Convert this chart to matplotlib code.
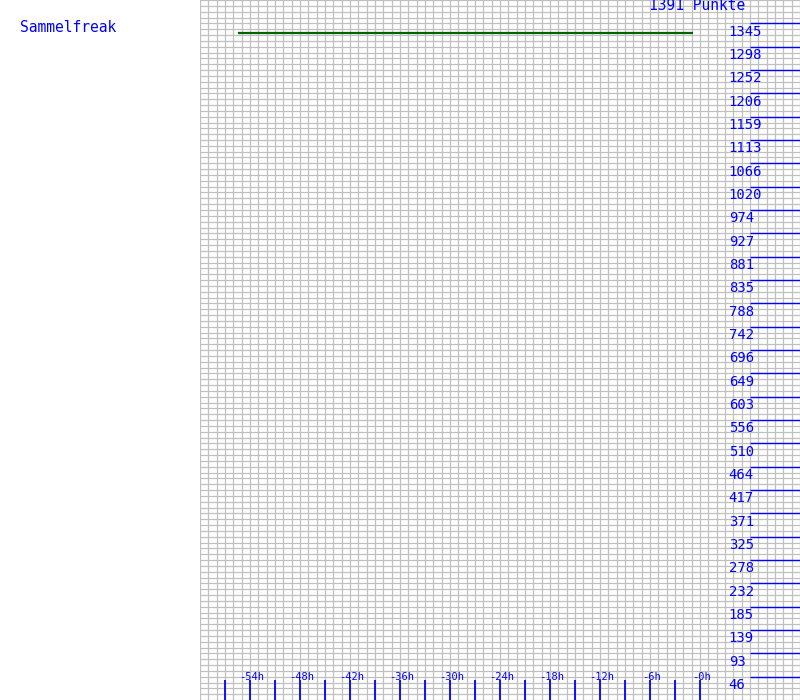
"""Points history chart for one player (last 60 hours)."""

import matplotlib

matplotlib.use("Agg")
import matplotlib.pyplot as plt
from matplotlib.ticker import MultipleLocator

PLAYER = "Sammelfreak"
MAX_POINTS = 1391
# green points line: start/end hour and value
LINE_HOURS = [-55.4, -0.9]
LINE_POINTS = [1326, 1326]
X_LABEL_HOURS = [-54, -48, -42, -36, -30, -24, -18, -12, -6, 0]
X_TICK_HOURS = [-57, -54, -51, -48, -45, -42, -39, -36, -33, -30,
                -27, -24, -21, -18, -15, -12, -9, -6, -3, 0]
Y_STEP = MAX_POINTS / 30
Y_LABELS = [1345, 1298, 1252, 1206, 1159, 1113, 1066, 1020, 974, 927,
            881, 835, 788, 742, 696, 649, 603, 556, 510, 464,
            417, 371, 325, 278, 232, 185, 139, 93, 46]

BLUE = "#0000FF"
GREEN = "#006400"
GRID = "#C0C0C0"
FONT = "DejaVu Sans Mono"

fig = plt.figure(figsize=(8, 7), dpi=100)
ax = fig.add_axes([0.25, 0, 0.75, 1])
ax.set_xlim(-60, 12)
ax.set_ylim(0, MAX_POINTS)

# light grid: 1h columns, 120 rows
ax.xaxis.set_minor_locator(MultipleLocator(1))
ax.yaxis.set_minor_locator(MultipleLocator(MAX_POINTS / 120))
ax.grid(which="minor", color=GRID, linewidth=0.9)
ax.set_xticks([])
ax.set_yticks([])
ax.tick_params(which="both", length=0)
for s in ax.spines.values():
    s.set_visible(False)

# value line
ax.plot(LINE_HOURS, LINE_POINTS, color=GREEN, linewidth=1.6, solid_capstyle="butt")

# right-hand scale
px = MAX_POINTS / 700  # data units per pixel
for i, lab in enumerate(Y_LABELS):
    yv = MAX_POINTS - (i + 1) * Y_STEP
    ax.hlines(yv, 6, 12, color=BLUE, linewidth=1.0)
    ax.text(3.45, yv - 8.5 * px, str(lab), color=BLUE, fontsize=10,
            family=FONT, va="center", ha="left")

# bottom time scale
ax.vlines(X_TICK_HOURS, 0, 20 * px, color=BLUE, linewidth=1.3)
for h in X_LABEL_HOURS:
    ax.text(h + 0.2, 23 * px, f"-{abs(h)}h", color=BLUE, fontsize=7.5,
            family=FONT, va="center", ha="center")

fig.text(20 / 800, 1 - 28 / 700, PLAYER, color=BLUE, fontsize=10.5,
         family=FONT, va="center", ha="left")
fig.text(649 / 800, 1 - 6 / 700, f"{MAX_POINTS} Punkte", color=BLUE,
         fontsize=10.5, family=FONT, va="center", ha="left")

fig.savefig("out.png", dpi=100)
